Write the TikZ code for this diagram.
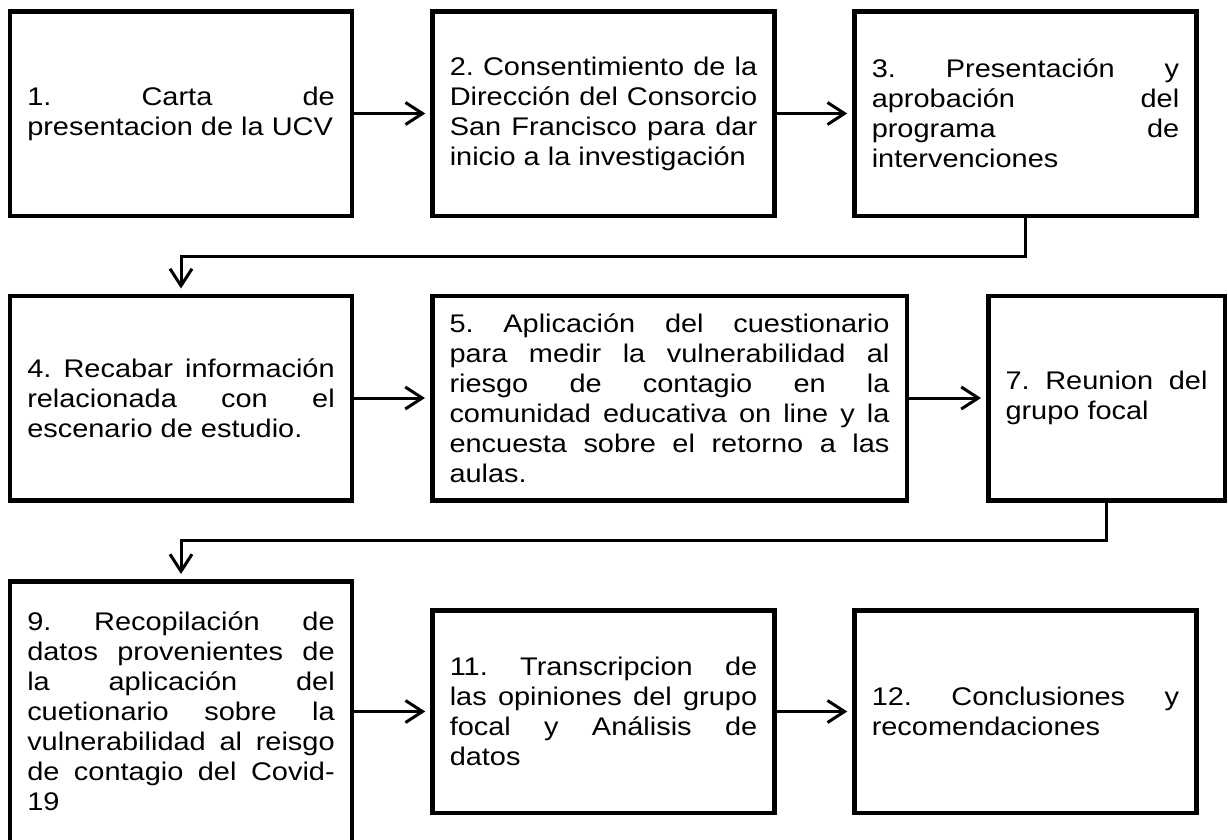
\documentclass[tikz,border=0pt]{standalone}
\usepackage{fontspec}
\setmainfont{Liberation Sans}[FakeStretch=1.135]
\usetikzlibrary{arrows.meta}
\hyphenpenalty=10000
\exhyphenpenalty=10000
\tolerance=9999
\frenchspacing

\begin{document}
\begin{tikzpicture}[
  x=1pt, y=1pt,
  font=\fontsize{25.5}{30}\selectfont,
  box/.style={draw, line width=4.5pt, align=justify, inner xsep=17.25pt, inner ysep=0pt,
              text width=307.5pt, minimum height=204.5pt},
  flow/.style={-{Straight Barb[length=17pt,width=22pt]}, line width=3pt, shorten >=5pt}
]
  \useasboundingbox (0,0) rectangle (1228,-839);
  % row 1
  \node[box] (carta) at (181,-113.5)
    {1. Carta de\linebreak presentacion de la UCV};
  \node[box] (consent) at (603.5,-113.5)
    {2. Consentimiento de la\linebreak Dirección del Consorcio\linebreak San Francisco para dar\linebreak inicio a la investigación};
  \node[box] (aprob) at (1025.5,-113.5)
    {3. Presentación y\linebreak aprobación del\linebreak programa de\linebreak intervenciones};
  % row 2
  \node[box] (recabar) at (181,-398)
    {4. Recabar información\linebreak relacionada con el\linebreak escenario de estudio.};
  \node[box, text width=440pt] (cuest) at (669.5,-398)
    {5. Aplicación del cuestionario\linebreak para medir la vulnerabilidad al\linebreak riesgo de contagio en la\linebreak comunidad educativa on line y la\linebreak encuesta sobre el retorno a las\linebreak aulas.};
  \node[box, text width=202pt] (reunion) at (1106.5,-398)
    {7. Reunion del\linebreak grupo focal};
  % row 3
  \node[box, minimum height=260.5pt] (recop) at (181,-711.5)
    {9. Recopilación de\linebreak datos provenientes de\linebreak la aplicación del\linebreak cuetionario sobre la\linebreak vulnerabilidad al reisgo\linebreak de contagio del Covid-\linebreak 19};
  \node[box, minimum height=202.5pt] (transc) at (603.5,-711.5)
    {11. Transcripcion de\linebreak las opiniones del grupo\linebreak focal y Análisis de\linebreak datos};
  \node[box, minimum height=202.5pt] (concl) at (1025.5,-711.5)
    {12. Conclusiones y\linebreak recomendaciones};
  % connectors
  \draw[flow] (carta)--(consent);
  \draw[flow] (consent)--(aprob);
  \draw[flow] (aprob.south) -- ++(0,-38) -| (recabar.north);
  \draw[flow] (recabar)--(cuest);
  \draw[flow] (cuest)--(reunion);
  \draw[flow] (reunion.south) -- ++(0,-38) -| (recop.north);
  \draw[flow] (recop)--(transc);
  \draw[flow] (transc)--(concl);
\end{tikzpicture}
\end{document}
